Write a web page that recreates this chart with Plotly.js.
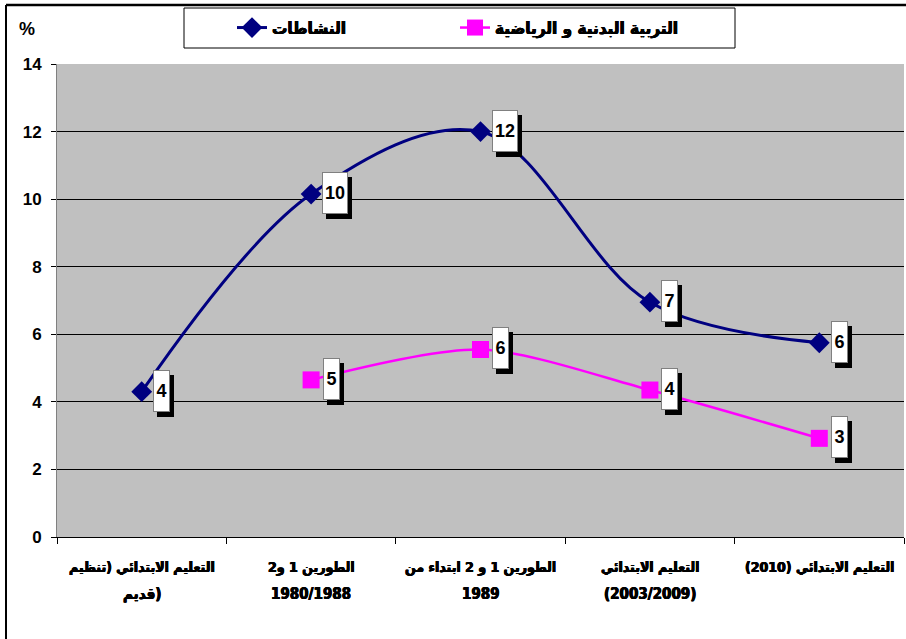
<!DOCTYPE html>
<html>
<head>
<meta charset="utf-8">
<script src="https://cdn.plot.ly/plotly-3.0.1.min.js"></script>
<style>html,body{margin:0;padding:0;background:#fff;}#chart{width:906px;height:639px;}</style>
</head>
<body>
<div id="chart"></div>
<script>
// ---- data ----
const categories = ["c1", "c2", "c3", "c4", "c5"];
const catLine1 = ["التعليم الابتدائي (تنظيم", "الطورين 1 و2", "الطورين 1 و 2 ابتداء من", "التعليم الابتدائي", "التعليم الابتدائي (2010)"];
const catLine2 = ["قديم)", "1980/1988", "1989", "(2003/2009)", ""];
const seriesActName = "النشاطات";
const seriesActValues = [4.3, 10.15, 12.0, 6.95, 5.75];
const seriesPEName = "التربية البدنية و الرياضية";
const seriesPEValues = [null, 4.65, 5.55, 4.35, 2.92];
const yTickVals = [0, 2, 4, 6, 8, 10, 12, 14];

const FONT = '"Liberation Sans", Arial, "DejaVu Sans", sans-serif';
const COND = '"DejaVu Sans Condensed", "DejaVu Sans", sans-serif';
const BOLDEN = '0.45px 0 0 #000, -0.45px 0 0 #000, 0 0.3px 0 #000';

const traces = [
  {
    x: categories, y: seriesActValues, name: seriesActName, type: 'scatter', mode: 'lines+markers',
    line: {color: '#000080', width: 3, shape: 'spline', smoothing: 1},
    marker: {symbol: 'diamond', size: 16, color: '#000080'},
    connectgaps: false
  },
  {
    x: categories, y: seriesPEValues, name: seriesPEName, type: 'scatter', mode: 'lines+markers',
    line: {color: '#FF00FF', width: 2.5, shape: 'spline', smoothing: 0.8},
    marker: {symbol: 'square', size: 17, color: '#FF00FF'},
    connectgaps: false
  }
];

const annotations = [];
function addLabels(vals) {
  vals.forEach((v, i) => {
    if (v === null) return;
    const txt = String(Math.round(v));
    const w = txt.length > 1 ? 24 : 15;
    const xs = txt.length > 1 ? 24 : 20;
    annotations.push({x: categories[i], y: v, xref: 'x', yref: 'y', text: ' ', showarrow: false,
      xshift: xs + 4, yshift: 1 - 5, width: w, height: 40, bgcolor: '#000000', borderpad: 0, borderwidth: 1, bordercolor: '#000000',
      font: {family: FONT, size: 17}});
    annotations.push({x: categories[i], y: v, xref: 'x', yref: 'y', text: '<b>' + txt + '</b>', showarrow: false,
      xshift: xs, yshift: 1, width: w, height: 40, bgcolor: '#FFFFFF', borderpad: 0, borderwidth: 1, bordercolor: '#808080',
      font: {family: FONT, size: 18, color: '#000000'}});
  });
}
addLabels(seriesActValues);
addLabels(seriesPEValues);

categories.forEach((c, i) => {
  annotations.push({x: c, xref: 'x', y: -0.0655, yref: 'paper', xanchor: 'center', yanchor: 'middle', text: '<b>' + catLine1[i] + '</b>',
    showarrow: false, font: {family: COND, size: 14, color: '#000', shadow: BOLDEN}});
  if (catLine2[i]) annotations.push({x: c, xref: 'x', y: -0.1205, yref: 'paper', xanchor: 'center', yanchor: 'middle', text: '<b>' + catLine2[i] + '</b>',
    showarrow: false, font: {family: COND, size: 15, color: '#000', shadow: BOLDEN}});
});

const PW = 847, PH = 473;
annotations.push({x: (27 - 57) / PW, xref: 'paper', y: (537 - 29) / PH, yref: 'paper', xanchor: 'center', yanchor: 'middle',
  text: '<b>%</b>', showarrow: false, font: {family: FONT, size: 18, color: '#000'}});

const layout = {
  width: 906, height: 639,
  margin: {l: 57, r: 2, t: 64, b: 102, pad: 0},
  paper_bgcolor: '#FFFFFF',
  plot_bgcolor: '#C0C0C0',
  showlegend: true,
  legend: {orientation: 'h', x: (232 - 57) / PW, xanchor: 'left', y: (537 - 28) / PH, yanchor: 'middle',
    bgcolor: 'rgba(0,0,0,0)', borderwidth: 0, entrywidth: 178, entrywidthmode: 'pixels',
    font: {family: COND, size: 17, color: '#000', weight: 700, shadow: BOLDEN}, itemwidth: 30},
  xaxis: {type: 'category', range: [-0.5, 4.5], tickson: 'boundaries', ticks: 'outside', ticklen: 6, tickcolor: '#000',
    showticklabels: false, showline: true, linecolor: '#000', linewidth: 1, showgrid: false, zeroline: false, fixedrange: true},
  yaxis: {range: [0, 14], tickvals: yTickVals, ticks: 'outside', ticklen: 5, tickcolor: '#000',
    showline: true, linecolor: '#808080', linewidth: 1, showgrid: true, gridcolor: '#000', gridwidth: 1, zeroline: false,
    tickfont: {family: FONT, size: 17, color: '#000', weight: 700}, ticklabelstandoff: 6},
  annotations: annotations,
  shapes: [
    {type: 'rect', xref: 'paper', yref: 'paper', x0: (184 - 57) / PW, x1: (735 - 57) / PW, y0: (537 - 48) / PH, y1: (537 - 8) / PH,
      line: {color: '#000', width: 1}, fillcolor: 'rgba(0,0,0,0)'},
    {type: 'line', xref: 'paper', yref: 'paper', x0: (6 - 57) / PW, x1: (906 - 57) / PW, y0: (537 - 5) / PH, y1: (537 - 5) / PH,
      line: {color: '#000', width: 2.5}},
    {type: 'line', xref: 'paper', yref: 'paper', x0: (6 - 57) / PW, x1: (6 - 57) / PW, y0: (537 - 5) / PH, y1: (537 - 640) / PH,
      line: {color: '#000', width: 2}}
  ]
};

Plotly.newPlot('chart', traces, layout, {displayModeBar: false, staticPlot: true});
</script>
</body>
</html>
